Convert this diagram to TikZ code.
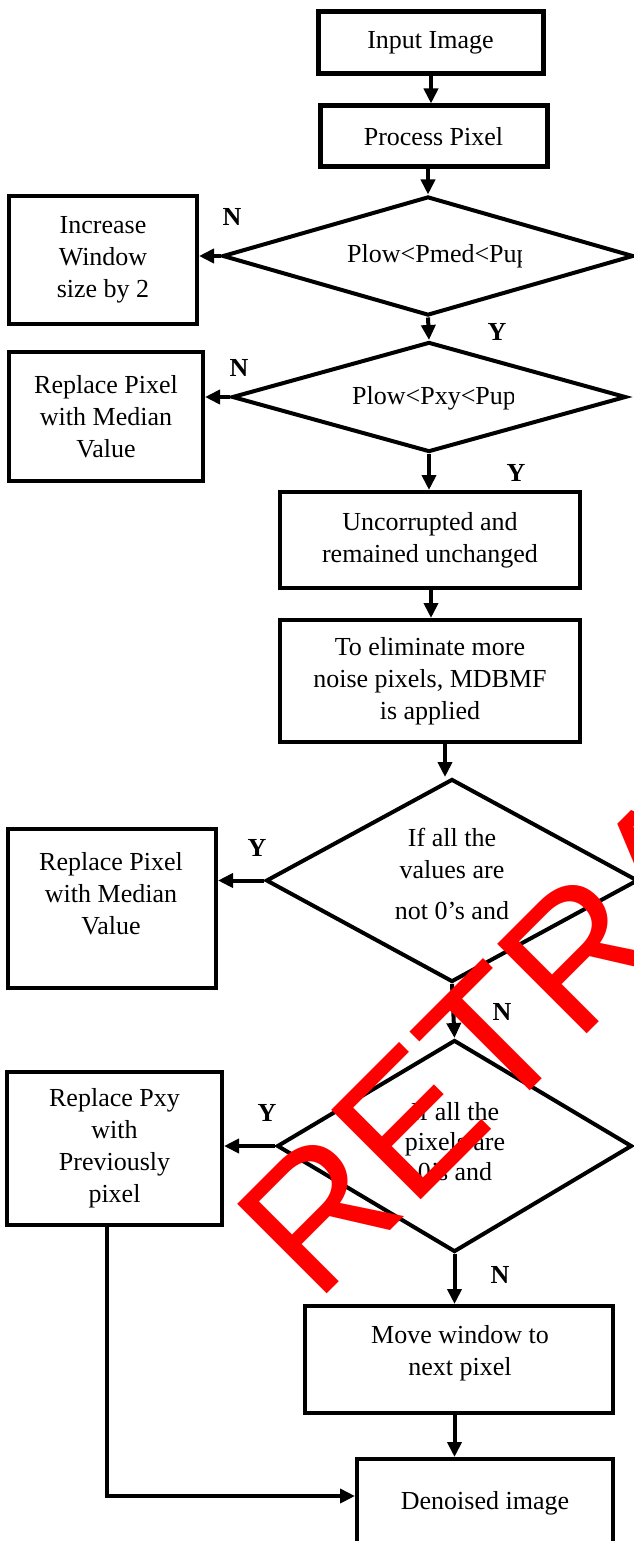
\documentclass[tikz,border=0pt]{standalone}
\usepackage{fontspec}
\setmainfont{Liberation Serif}
\newfontfamily\wmfont{Liberation Sans}
\usetikzlibrary{shapes.geometric,arrows.meta}
\begin{document}
\begin{tikzpicture}[x=1pt,y=-1pt,
  box/.style={draw, line width=4pt, inner sep=0pt, align=center, font=\fontsize{26}{32}\selectfont},
  thickbox/.style={box, line width=5pt},
  dia/.style={draw, diamond, line width=4pt, inner sep=0pt},
  txt/.style={inner sep=0pt, align=center, font=\fontsize{26}{32}\selectfont},
  yn/.style={inner sep=0pt, font=\fontsize{26}{26}\selectfont\bfseries},
  arr/.style={line width=4pt, -{Triangle[length=15pt,width=14pt]}},
  plainline/.style={line width=4pt}
]
\useasboundingbox (0,0) rectangle (634,1541);
\fill[white] (0,0) rectangle (634,1541);

% boxes
\node[thickbox, minimum width=225pt, minimum height=62pt] (in) at (430.5,43) {Input Image};
\node[thickbox, minimum width=227pt, minimum height=61pt] (proc) at (433.5,136.5) {Process Pixel};
\node[box, minimum width=188pt, minimum height=128pt] (inc) at (103,260) {Increase\\Window\\size by 2};
\node[box, minimum width=194pt, minimum height=129pt] (rep1) at (106,416.5) {Replace Pixel\\with Median\\Value};
\node[box, minimum width=300pt, minimum height=96pt] (unc) at (430,540) {Uncorrupted and\\remained unchanged};
\node[box, minimum width=300pt, minimum height=122pt] (elim) at (430,681) {To eliminate more\\noise pixels, MDBMF\\is applied};
\node[box, minimum width=208pt, minimum height=159pt] (rep2) at (112,908.5) {};
\node[txt] (rep2t) at (111,894) {Replace Pixel\\with Median\\Value};
\node[box, minimum width=215pt, minimum height=153pt] (rep3) at (114.5,1148.5) {Replace Pxy\\with\\Previously\\pixel};
\node[box, minimum width=308pt, minimum height=107pt] (move) at (459,1359.5) {};
\node[txt] (movet) at (460,1353) {Move window to\\next pixel};
\node[box, minimum width=256pt, minimum height=102pt] (den) at (485,1510) {};
\node[txt] (dent) at (485,1503) {Denoised image};

% diamonds
\node[dia, minimum width=411pt, minimum height=119pt] (d1) at (428,256) {};
\node[dia, minimum width=394pt, minimum height=110pt] (d2) at (429,397) {};
\node[dia, minimum width=372pt, minimum height=203pt] (d3) at (452,880.5) {};
\node[dia, minimum width=355pt, minimum height=212pt] (d4) at (454.5,1146) {};

\begin{scope}
\clip (300,225) rectangle (521,290);
\node[txt, anchor=west] (d1t) at (347,256) {Plow<Pmed<Pup};
\end{scope}
\begin{scope}
\clip (300,370) rectangle (513,425);
\node[txt, anchor=west] (d2t) at (352,398) {Plow<Pxy<Pup};
\end{scope}
\node[txt] (d3t) at (452,874) {If all the\\values are\\[9pt]not 0’s and};
\node[txt, font=\fontsize{26}{30}\selectfont] (d4t) at (455,1141) {If all the\\pixels are\\0’s and};

% labels
\node[yn] (n1) at (232,217) {N};
\node[yn] (y1) at (497,332) {Y};
\node[yn] (n2) at (239,368) {N};
\node[yn] (y2) at (516,473) {Y};
\node[yn] (y3) at (257,848) {Y};
\node[yn] (n3) at (502,1012) {N};
\node[yn] (y4) at (267,1113) {Y};
\node[yn] (n4) at (500,1275) {N};

% connectors
\draw[arr] (in.south -| 431,0) -- (proc.north -| 431,0);
\draw[arr] (d1.north |- proc.south) -- (d1.north);
\draw[arr] (d1.west) -- (d1.west -| inc.east);
\draw[arr] (d1.south) -- (d2.north);
\draw[arr] (d2.west) -- (d2.west -| rep1.east);
\draw[arr] (d2.south) -- (d2.south |- unc.north);
\draw[arr] (unc.south -| 431,0) -- (elim.north -| 431,0);
\draw[arr] ([xshift=15pt]elim.south) -- ([xshift=15pt]elim.south |- d3.north);
\draw[arr] (d3.west) -- (d3.west -| rep2.east);
\draw[arr] (d3.south) -- (d4.north);
\draw[arr] (d4.west) -- (d4.west -| rep3.east);
\draw[arr] (d4.south) -- (d4.south |- move.north);
\draw[arr] (d4.south |- move.south) -- (d4.south |- den.north);
\draw[arr] ([xshift=-7.5pt]rep3.south) |- ([yshift=14pt]den.west);

% watermark
\begin{scope}
\clip (0,0) rectangle (634,1541);
\node[rotate=45, anchor=base west, inner sep=0pt, text=red, font=\wmfont\fontsize{184}{184}\selectfont] (wm) at (316,1305) {RETRACTED};
\end{scope}
\end{tikzpicture}
\end{document}
